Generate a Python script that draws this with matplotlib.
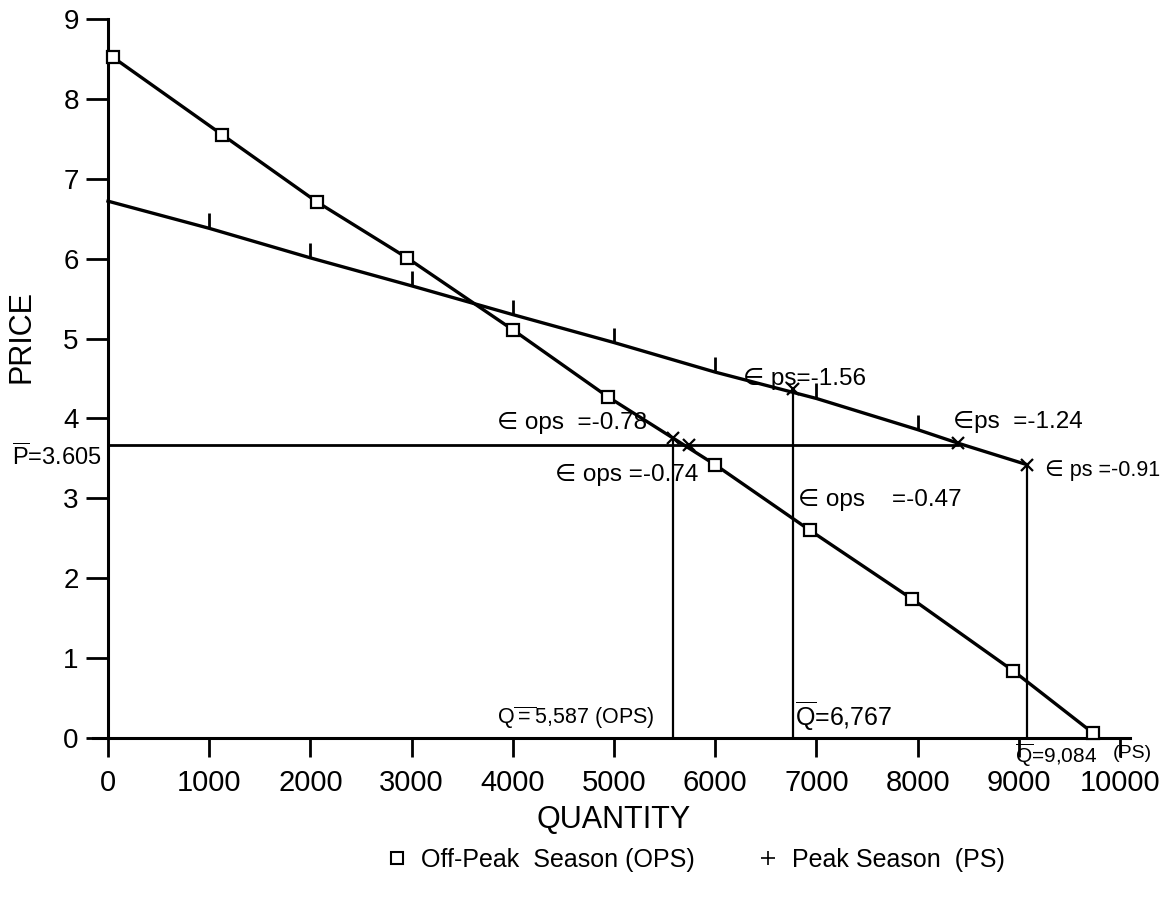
import matplotlib
matplotlib.use('Agg')
import matplotlib.pyplot as plt
from matplotlib.lines import Line2D

plt.rcParams['font.family'] = ['Liberation Sans', 'DejaVu Sans']
plt.rcParams['mathtext.fontset'] = 'custom'
plt.rcParams['mathtext.rm'] = 'Liberation Sans'

# ------------------------- DATA -------------------------

# Off-peak season demand (squares)
ops_qty = [50, 1130, 2065, 2955, 4000, 4940, 6000, 6935, 7945, 8945, 9735]
ops_price = [8.52, 7.55, 6.71, 6.01, 5.11, 4.27, 3.42, 2.60, 1.74, 0.84, 0.06]

# Peak season demand (tick marks along the line)
ps_qty = [0, 1000, 2000, 3000, 4000, 5000, 6000, 7000, 8000, 8400, 9084]
ps_price = [6.72, 6.38, 6.01, 5.66, 5.30, 4.95, 4.58, 4.25, 3.86, 3.69, 3.42]
ps_tick_qty = [1000, 2000, 3000, 4000, 5000, 6000, 7000, 8000]
ps_tick_price = [6.38, 6.01, 5.66, 5.30, 4.95, 4.58, 4.25, 3.86]

# mean price line (label says 3.605)
p_bar = 3.67
p_bar_end = 8400

# mean quantities and where they meet the curves
q_bars = [5587, 6767, 9084]
q_bar_tops = [3.76, 4.37, 3.42]

# elasticity points (x marks)
x_qty = [5587, 5740, 6767, 8400, 9084]
x_price = [3.76, 3.67, 4.37, 3.69, 3.42]

eps_labels = ['\u2208 ops  =-0.78', '\u2208 ops =-0.74', '\u2208 ps=-1.56',
              '\u2208ps  =-1.24', '\u2208 ps =-0.91', '\u2208 ops    =-0.47']

x_ticks = [0, 1000, 2000, 3000, 4000, 5000, 6000, 7000, 8000, 9000, 10000]
y_ticks = [0, 1, 2, 3, 4, 5, 6, 7, 8, 9]

# ------------------------- PLOT -------------------------

fig = plt.figure(figsize=(11.69, 9.01), dpi=100)
ax = fig.add_axes([0.0794, 0.1809, 0.8874, 0.798])

lw = 2.4

# OPS curve
ax.plot(ops_qty, ops_price, color='black', lw=lw, zorder=3,
        marker='s', ms=9, mfc='white', mec='black', mew=1.6, clip_on=False)

# PS curve
ax.plot(ps_qty, ps_price, color='black', lw=lw, zorder=3, clip_on=False)
up_tick = [(0, 0), (0, 1)]
ax.plot(ps_tick_qty, ps_tick_price, ls='none', marker=up_tick, ms=22,
        mec='black', mew=2, zorder=4)

# mean price line
ax.plot([0, p_bar_end], [p_bar, p_bar], color='black', lw=2, zorder=2)

# mean quantity lines
for q, top in zip(q_bars, q_bar_tops):
    ax.plot([q, q], [0, top], color='black', lw=1.6, zorder=2)

# elasticity marks
ax.plot(x_qty, x_price, ls='none', marker='x', ms=8, mec='black', mew=1.6, zorder=5)

# elasticity labels
eps_pos = [(3844, 3.94), (4417, 3.29), (6275, 4.50), (8350, 3.96), (9260, 3.35), (6818, 2.98)]
eps_size = [17.5, 17.5, 17.5, 17.5, 15.5, 17.5]
for txt, (q, p), fs in zip(eps_labels, eps_pos, eps_size):
    ax.text(q, p, txt, fontsize=fs, ha='left', va='center', zorder=6, clip_on=False)

# mean quantity labels
ax.text(3844, 0.25, r'Q$\overline{\mathrm{=}}$5,587 (OPS)', fontsize=15.5, ha='left', va='center')
ax.text(6790, 0.27, r'$\overline{\mathrm{Q}}$=6,767', fontsize=18, ha='left', va='center')
ax.text(8960, -0.21, r'$\overline{\mathrm{Q}}$=9,084', fontsize=15, ha='left', va='center',
        clip_on=False)
ax.text(9930, -0.19, '(PS)', fontsize=14, ha='left', va='center', clip_on=False)

# mean price label
ax.text(-60, 3.52, r'$\overline{\mathrm{P}}$=3.605', fontsize=17, ha='right', va='center',
        clip_on=False)

# axes
ax.set_xlim(-150, 10100)
ax.set_ylim(0, 9)
ax.spines['top'].set_visible(False)
ax.spines['right'].set_visible(False)
ax.spines['left'].set_position(('data', 0))
ax.spines['left'].set_linewidth(2.2)
ax.spines['bottom'].set_linewidth(2.2)

ax.set_xticks(x_ticks)
ax.set_xticklabels([str(t) for t in x_ticks], fontsize=21)
ax.set_yticks(y_ticks)
ax.set_yticklabels([str(t) for t in y_ticks], fontsize=20)
ax.tick_params(axis='x', direction='out', length=14, width=2, pad=8)
ax.tick_params(axis='y', direction='out', length=16, width=2, pad=5)

fig.text(0.018, 0.626, 'PRICE', fontsize=22, rotation=90, ha='center', va='center')
fig.text(0.525, 0.09, 'QUANTITY', fontsize=22, ha='center', va='center')

# legend
handles = [
    Line2D([], [], ls='none', marker='s', ms=9, mfc='white', mec='black', mew=1.5,
           label='Off-Peak  Season (OPS)'),
    Line2D([], [], ls='none', marker='+', ms=10, mec='black', mew=1.2,
           label='Peak Season  (PS)'),
]
fig.legend(handles=handles, loc='center', bbox_to_anchor=(0.596, 0.046), ncol=2,
           frameon=False, fontsize=18, handlelength=0.7, handletextpad=0.6,
           columnspacing=2.6)

fig.savefig('out.png', dpi=100)
